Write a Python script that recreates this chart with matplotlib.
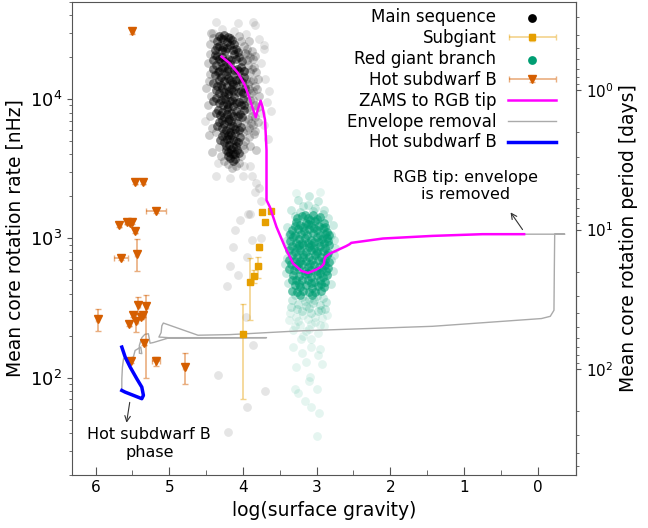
import numpy as np
import matplotlib
matplotlib.use("Agg")
from matplotlib import pyplot as plt
from matplotlib.colors import to_rgba
from matplotlib.legend_handler import HandlerErrorbar

# ---- asteroseismic samples: (log g, mean core rotation rate in nHz) ----
ms_core = [
    (4.25, 29000), (4.20, 28000), (4.30, 27500), (4.15, 26500), (4.35, 26000), (4.22, 25500),
    (4.32, 24000), (4.18, 24500), (4.27, 23500), (4.10, 23000), (4.38, 22500), (4.24, 22000),
    (4.35, 20500), (4.28, 20000), (4.20, 19500), (4.12, 21000), (4.05, 20000), (4.40, 19000), (4.30, 18500),
    (4.36, 17500), (4.25, 17000), (4.17, 17800), (4.08, 16500), (4.32, 16000), (4.02, 17000), (4.22, 15800),
    (4.38, 14800), (4.30, 14500), (4.20, 14200), (4.12, 15000), (4.05, 14000), (4.26, 13500), (4.15, 13200), (3.98, 14500),
    (4.35, 12500), (4.28, 12000), (4.22, 12300), (4.16, 11800), (4.10, 12500), (4.03, 11500), (4.32, 11000), (4.20, 10800), (3.97, 12000),
    (4.37, 10200), (4.30, 9800), (4.24, 10000), (4.18, 9600), (4.12, 10300), (4.06, 9500), (4.00, 10000), (4.27, 9000), (4.14, 8900),
    (4.34, 8400), (4.28, 8100), (4.22, 8500), (4.16, 7900), (4.10, 8200), (4.04, 7800), (3.98, 8300), (4.25, 7400), (4.19, 7200),
    (4.32, 6800), (4.26, 6600), (4.20, 6900), (4.14, 6400), (4.08, 6700), (4.02, 6300), (4.23, 6000), (4.17, 5800), (4.11, 6100),
    (4.28, 5400), (4.22, 5200), (4.16, 5500), (4.10, 5000), (4.04, 5300), (4.19, 4700), (4.13, 4500), (4.25, 4900),
    (4.20, 4200), (4.14, 4000), (4.08, 4300), (4.17, 3800), (4.11, 3700),
    (4.17, 27200), (4.27, 26800), (4.33, 28300), (4.12, 25000),
    (4.14, 22600), (4.21, 23200), (4.29, 22400), (4.35, 23800), (4.07, 21800),
    (4.09, 19300), (4.16, 19000), (4.24, 18800), (4.33, 19500), (4.38, 20800), (4.01, 18700),
    (4.05, 15800), (4.12, 16200), (4.20, 16500), (4.28, 16800), (4.34, 15500), (4.40, 16300), (3.99, 16000),
    (4.01, 13200), (4.09, 13800), (4.18, 13600), (4.23, 14800), (4.33, 13800), (4.40, 13000), (4.13, 12800),
    (4.00, 11000), (4.07, 11200), (4.13, 11400), (4.19, 11500), (4.25, 11200), (4.30, 12700), (4.37, 11600), (4.26, 10500),
    (4.03, 9100), (4.09, 9300), (4.15, 9900), (4.21, 9200), (4.33, 9300), (4.40, 9600), (4.20, 8800), (3.99, 9000),
    (4.01, 7400), (4.07, 7600), (4.13, 7600), (4.22, 7800), (4.31, 7700), (4.37, 8000), (4.28, 7100), (4.16, 7000),
    (4.05, 6000), (4.11, 5700), (4.17, 6300), (4.29, 6200), (4.35, 6400), (4.25, 5700), (4.20, 5500),
    (4.07, 4900), (4.13, 5100), (4.19, 5200), (4.31, 5100), (4.23, 4600), (4.16, 4400), (4.09, 4600),
    (4.23, 4300), (4.17, 4100), (4.11, 4000), (4.05, 4100), (4.14, 3600), (4.20, 3900),
]
ms_mid = [
    (4.45, 25000), (4.48, 18000), (4.50, 12000), (4.47, 9000), (4.44, 15000), (4.46, 5500), (4.42, 4200),
    (4.44, 21000), (4.46, 13500), (4.43, 10500), (4.45, 7600), (4.42, 6200), (4.41, 27500), (4.43, 30000),
    (3.92, 26000), (3.88, 22000), (3.95, 19000), (3.85, 17000), (3.90, 15500), (3.80, 14000), (3.93, 12800),
    (3.86, 11500), (3.78, 10500), (3.90, 9800), (3.83, 9000), (3.95, 8600), (3.88, 7500),
    (3.80, 6800), (3.92, 6200), (3.85, 5600), (3.97, 5000), (3.90, 4600), (3.82, 4300),
    (3.98, 24000), (3.94, 21000), (3.87, 19500), (3.99, 16000), (3.91, 13500), (3.84, 12500), (3.96, 10800),
    (3.89, 11000), (3.93, 7200), (3.86, 6500), (4.00, 5800),
    (3.95, 23000), (3.90, 20000), (3.84, 20500), (3.93, 17500), (3.88, 16500), (3.82, 15500), (3.96, 14000),
    (3.87, 13800), (3.92, 11800), (3.81, 11800), (3.95, 9700), (3.86, 9900), (3.80, 8700), (3.91, 8400),
    (3.97, 7000), (3.84, 7400), (3.89, 6700), (3.95, 6000), (3.83, 5900), (3.92, 5300), (3.98, 4400),
    (4.30, 3900), (4.02, 3900), (4.20, 3400), (4.10, 3300), (4.25, 3600), (4.05, 3500), (4.15, 3200),
    (4.32, 4500), (4.00, 4700), (4.36, 5800), (4.02, 26000), (4.05, 28500), (3.97, 21500),
]
ms_halo = [
    (4.52, 7000), (3.75, 8000),
    (3.70, 14000), (3.65, 11500), (3.68, 9500), (3.62, 8200), (3.72, 6500), (3.66, 5200), (3.75, 18000), (3.72, 23000),
    (4.36, 35500), (4.07, 35000), (3.86, 35500), (3.83, 34000), (4.28, 32000), (4.12, 31000), (4.40, 30000),
    (3.96, 29500), (3.78, 27000), (3.72, 24500),
    (4.34, 3470), (4.36, 2800), (4.18, 2700), (4.00, 2800), (3.88, 2800), (3.82, 2500), (3.84, 2150),
    (3.75, 1850), (3.93, 1500), (4.04, 1350), (4.11, 1150), (3.91, 1500),
    (3.98, 3300), (3.90, 3300), (3.78, 2300), (4.13, 870), (3.95, 740), (4.18, 630),
    (4.07, 545), (4.21, 455), (3.965, 273), (3.87, 171), (4.335, 104), (3.70, 81), (3.95, 62), (4.2, 41),
    (3.75, 1000), (3.88, 980),
]
rgb_core = [
    (3.20, 1450), (3.05, 1480), (2.95, 1420), (3.12, 1400),
    (3.28, 1320), (3.15, 1300), (3.02, 1330), (2.90, 1280), (3.22, 1250), (3.08, 1240),
    (3.33, 1150), (3.25, 1170), (3.17, 1130), (3.10, 1160), (3.00, 1140), (2.92, 1180), (2.86, 1120),
    (3.32, 1020), (3.24, 990), (3.16, 1010), (3.08, 980), (3.00, 1030), (2.93, 990), (2.86, 1010), (3.20, 930), (3.04, 940),
    (3.34, 880), (3.27, 860), (3.19, 890), (3.11, 870), (3.03, 850), (2.96, 880), (2.88, 860), (2.83, 900), (3.14, 800), (3.00, 810),
    (3.33, 760), (3.26, 740), (3.18, 770), (3.10, 735), (3.02, 760), (2.94, 740), (2.86, 755), (3.22, 690), (3.06, 700), (2.92, 680),
    (3.35, 650), (3.28, 630), (3.20, 655), (3.12, 620), (3.04, 645), (2.97, 625), (2.89, 640), (2.84, 610), (3.16, 585), (3.00, 580),
    (3.32, 550), (3.24, 535), (3.16, 555), (3.08, 525), (3.00, 545), (2.92, 530), (2.86, 550), (3.20, 500), (3.04, 490),
    (3.30, 460), (3.22, 445), (3.14, 465), (3.06, 440), (2.98, 455), (2.90, 445), (3.18, 420), (3.02, 415),
    (3.26, 1390), (3.09, 1360), (2.99, 1380), (3.16, 1460),
    (3.30, 1230), (3.19, 1210), (3.12, 1270), (2.97, 1220), (2.88, 1200), (3.04, 1190),
    (3.36, 1080), (3.29, 1060), (3.21, 1080), (3.13, 1060), (3.05, 1090), (2.96, 1060), (2.89, 1080), (2.83, 1050),
    (3.36, 950), (3.28, 930), (3.12, 930), (2.97, 945), (2.90, 920), (2.84, 960), (3.24, 900), (3.07, 900),
    (3.37, 820), (3.30, 800), (3.22, 820), (3.07, 820), (2.99, 780), (2.92, 810), (2.85, 790), (3.18, 740),
    (3.38, 700), (3.30, 690), (3.14, 690), (2.98, 705), (2.89, 700), (2.83, 680), (3.25, 660), (3.09, 660),
    (3.37, 600), (3.31, 590), (3.24, 600), (3.08, 590), (2.93, 600), (2.87, 580), (3.12, 560), (2.96, 560),
    (3.34, 500), (3.28, 505), (3.12, 505), (2.96, 500), (2.88, 490), (3.24, 470), (3.08, 475), (2.94, 470),
    (3.34, 420), (3.26, 410), (3.10, 410), (2.94, 420), (3.06, 395), (3.22, 395),
]
rgb_mid = [
    (3.25, 1900), (3.10, 2000), (2.98, 1850), (3.18, 1700), (3.02, 1650), (2.90, 1600), (3.35, 1600),
    (3.30, 1450), (2.85, 1400), (3.12, 1750), (3.22, 1550), (2.92, 1500), (3.05, 1580),
    (3.40, 1200), (3.42, 950), (3.40, 720), (3.42, 560), (2.78, 1250), (2.76, 980), (2.77, 760), (2.78, 580),
    (3.38, 850), (2.80, 700), (3.37, 1050), (2.81, 1050), (3.43, 650), (2.75, 850), (3.39, 480), (2.80, 470),
    (3.30, 390), (3.20, 380), (3.10, 370), (3.00, 385), (2.92, 375), (3.25, 340), (3.15, 330), (3.05, 345),
    (2.95, 335), (3.35, 320), (2.88, 310), (3.20, 300), (3.08, 290), (2.98, 300),
    (3.33, 360), (3.16, 355), (3.03, 360), (2.87, 350), (3.27, 310), (3.10, 315), (2.94, 305),
]
rgb_halo = [
    (3.28, 2100), (2.95, 2150),
    (3.28, 275), (3.12, 265), (2.93, 270), (3.38, 260), (3.02, 250), (3.22, 240), (2.90, 235), (3.10, 225),
    (3.32, 220), (2.98, 210), (3.18, 200), (3.07, 190),
    (3.36, 290), (3.18, 280), (3.02, 275), (2.86, 280), (3.25, 255), (3.08, 245), (2.95, 240), (3.30, 235), (3.14, 215),
    (3.32, 166), (3.21, 190), (3.07, 166), (2.96, 162), (3.20, 150), (2.98, 145), (3.095, 101), (3.11, 95),
    (3.30, 83), (3.00, 83), (3.25, 78), (3.16, 68), (3.07, 62), (2.97, 56), (3.00, 38.5), (3.28, 120),
    (2.93, 125), (3.15, 130),
]

# subgiants
sg_logg = [3.735, 3.62, 3.70, 3.78, 3.79, 3.85, 3.90, 4.00]
sg_rate = [1540, 1566, 1313, 869, 631, 535, 490, 205]
sg_err_lo = [40, 40, 40, 40, 107, 60, 229, 134]
sg_err_hi = [40, 40, 40, 40, 105, 60, 228, 136]
sg_logg_err = [0.02, 0.02, 0.02, 0.02, 0.03, 0.03, 0.03, 0.02]

# hot subdwarf B stars
sdb_logg = [5.50, 5.46, 5.35, 5.18, 5.675, 5.575, 5.53, 5.51, 5.46, 5.44, 5.65, 5.97,
            5.42, 5.31, 5.49, 5.54, 5.45, 5.38, 5.35, 5.34, 5.52, 5.18, 4.79]
sdb_rate = [30800, 2520, 2520, 1570, 1240, 1313, 1280, 1313, 1128, 778, 718, 263,
            331, 326, 284, 245, 255, 273, 281, 179, 133, 131, 119]
sdb_err_lo = [1500, 60, 60, 50, 40, 40, 40, 40, 40, 197, 20, 46,
              42, 226, 12, 10, 41, 10, 10, 8, 6, 10, 29]
sdb_err_hi = [1500, 60, 60, 50, 40, 40, 40, 40, 40, 204, 20, 47,
              49, 69, 12, 10, 34, 10, 10, 8, 6, 10, 32]
sdb_logg_err = [0.02, 0.02, 0.02, 0.13, 0.02, 0.02, 0.02, 0.02, 0.02, 0.02, 0.095, 0.02,
                0.02, 0.02, 0.02, 0.02, 0.02, 0.02, 0.02, 0.02, 0.02, 0.05, 0.02]

# stellar model track
zams_logg = [4.29, 4.18, 4.065, 3.975, 3.91, 3.86, 3.825, 3.795, 3.76, 3.735, 3.70, 3.68, 3.68,
             3.635, 3.545, 3.43, 3.32, 3.207, 3.118, 3.004, 2.93, 2.90, 2.895, 2.88, 2.82,
             2.60, 2.553, 2.53, 2.10, 1.43, 0.75, 0.185]
zams_rate = [20140, 18040, 15300, 12600, 10100, 8340, 7390, 8500, 9730, 8810, 7070, 4300, 1880,
             1683, 1210, 869, 661, 585, 565, 598, 630, 661, 700, 736, 778,
             880, 908, 929, 998, 1042, 1072, 1072]
env_logg = [0.185, -0.365, -0.23, -0.225, -0.22, -0.17, -0.05, 1.43, 3.23, 4.18, 4.61, 5.08, 5.10,
            5.11, 5.14, 5.01, 3.68, 5.01, 5.215, 5.26, 5.273, 5.283, 5.33, 5.372, 5.405, 5.405,
            5.372, 5.386, 5.463, 5.486, 5.553, 5.62, 5.635, 5.643, 5.643]
env_rate = [1072, 1072, 1072, 600, 305, 276, 266, 234, 217, 204, 202, 247, 236,
            211, 196, 194, 194, 193, 179, 177, 194, 207, 205, 194, 171, 150,
            149, 166, 157, 141, 137, 137, 119, 98, 81]
hsd_logg = [5.643, 5.598, 5.486, 5.372, 5.35, 5.372, 5.44, 5.53, 5.598, 5.643]
hsd_rate = [81.1, 78.9, 74.8, 70.8, 74.8, 85.7, 98.4, 119.4, 141, 166]


def rate_to_period(r):
    # nHz -> days (the same function maps back)
    r = np.asarray(r, dtype=float)
    with np.errstate(divide="ignore"):
        return 1e9 / (86400.0 * r)


plt.rcParams["font.family"] = "DejaVu Sans"
fig = plt.figure(figsize=(6.48, 5.28), dpi=100)
ax = fig.add_subplot(111)
fig.subplots_adjust(left=0.111, right=0.889, bottom=0.10, top=0.997)

grey_edge = "#555555"
for s in ax.spines.values():
    s.set_color(grey_edge)

ms_c, ms_m, ms_h = np.array(ms_core), np.array(ms_mid), np.array(ms_halo)
rg_c, rg_m, rg_h = np.array(rgb_core), np.array(rgb_mid), np.array(rgb_halo)
green = "#009E73"

ms_sc = ax.scatter(ms_h[:, 0], ms_h[:, 1], s=40, color="black", alpha=0.1, lw=0, zorder=1)
ax.scatter(ms_m[:, 0], ms_m[:, 1], s=40, color="black", alpha=0.2, lw=0, zorder=1)
ax.scatter(ms_c[:, 0], ms_c[:, 1], s=40, color="black", alpha=0.5, lw=0, zorder=1)
rgb_sc = ax.scatter(rg_h[:, 0], rg_h[:, 1], s=40, color=green, alpha=0.1, lw=0, zorder=1)
ax.scatter(rg_m[:, 0], rg_m[:, 1], s=40, color=green, alpha=0.2, lw=0, zorder=1)
ax.scatter(rg_c[:, 0], rg_c[:, 1], s=40, color=green, alpha=0.6, lw=0, zorder=1)

env_line, = ax.plot(env_logg, env_rate, color="#aaaaaa", lw=1.0, zorder=2)

sg = ax.errorbar(sg_logg, sg_rate, xerr=sg_logg_err, yerr=[sg_err_lo, sg_err_hi], fmt="s",
                 color="#E69F00", ecolor=to_rgba("#E69F00", 0.45), ms=4.5, capsize=2.5,
                 elinewidth=1.2, zorder=3)
sdb = ax.errorbar(sdb_logg, sdb_rate, xerr=sdb_logg_err, yerr=[sdb_err_lo, sdb_err_hi], fmt="v",
                  color="#D55E00", ecolor=to_rgba("#D55E00", 0.5), ms=5.5, capsize=2.5,
                  elinewidth=1.2, zorder=3)

zams_line, = ax.plot(zams_logg, zams_rate, color="magenta", lw=1.8, zorder=4)
hsd_line, = ax.plot(hsd_logg, hsd_rate, color="blue", lw=2.5, zorder=4)

ax.set_yscale("log")
ax.set_xlim(6.32, -0.52)
ax.set_ylim(20, 50000)
ax.set_xticks([6, 5, 4, 3, 2, 1, 0])
ax.set_xticks([5.5, 4.5, 3.5, 2.5, 1.5, 0.5], minor=True)
ax.tick_params(axis="x", which="both", direction="in", top=False, colors=grey_edge,
               labelcolor="black", labelsize=11)
ax.tick_params(axis="x", which="major", length=6)
ax.tick_params(axis="x", which="minor", length=3.5)
ax.tick_params(axis="y", which="both", direction="out", right=False, colors=grey_edge,
               labelcolor="black", labelsize=13)
ax.set_xlabel("log(surface gravity)", fontsize=13.5)
ax.set_ylabel("Mean core rotation rate [nHz]", fontsize=13.5)

sec = ax.secondary_yaxis("right", functions=(rate_to_period, rate_to_period))
sec.set_yticks([1, 10, 100])
sec.spines["right"].set_color(grey_edge)
sec.tick_params(which="both", direction="out", colors=grey_edge, labelcolor="black", labelsize=11)
sec.set_ylabel("Mean core rotation period [days]", fontsize=13.5)

ax.annotate("", xy=(0.39, 1596), xytext=(0.185, 1114),
            arrowprops=dict(arrowstyle="->", color="#333333", lw=0.8))
ax.text(0.98, 2370, "RGB tip: envelope\nis removed", ha="center", va="center", fontsize=11.5)
ax.annotate("", xy=(5.585, 45.5), xytext=(5.53, 69.7),
            arrowprops=dict(arrowstyle="->", color="#333333", lw=0.8))
ax.text(5.27, 33.8, "Hot subdwarf B\nphase", ha="center", va="center", fontsize=11.5)

handles = [ms_sc, sg, rgb_sc, sdb, zams_line, env_line, hsd_line]
labels = ["Main sequence", "Subgiant", "Red giant branch", "Hot subdwarf B",
          "ZAMS to RGB tip", "Envelope removal", "Hot subdwarf B"]
err_handler = HandlerErrorbar(xerr_size=1.4, yerr_size=0.2)
leg = ax.legend(handles, labels, loc="upper right", bbox_to_anchor=(1.0, 1.027), frameon=False,
                markerfirst=False, fontsize=12, labelspacing=0.17, handlelength=2.9,
                handletextpad=0.7, borderaxespad=0.78, scatterpoints=1,
                handler_map={sg: err_handler, sdb: err_handler})
for h in leg.legend_handles:
    if h.__class__.__name__ == "PathCollection":
        h.set_alpha(1)

fig.savefig("out.png", dpi=100)
